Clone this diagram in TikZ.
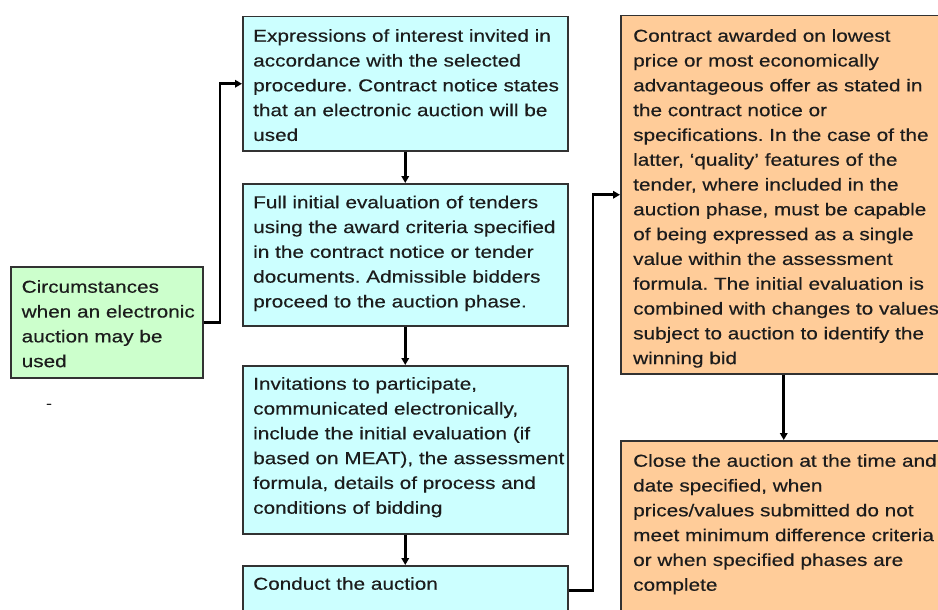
\documentclass[tikz,border=0pt]{standalone}
\usepackage{fontspec}
\setmainfont{Liberation Sans}[FakeStretch=1.2, FakeBold=0.35]
\frenchspacing
\usetikzlibrary{arrows.meta}

\definecolor{cyanfill}{RGB}{204,255,255}
\definecolor{greenfill}{RGB}{204,255,204}
\definecolor{peachfill}{RGB}{255,204,153}
\definecolor{edgegray}{RGB}{50,50,50}
\definecolor{inkgray}{RGB}{28,28,28}

\tikzset{
  panel/.style={draw=edgegray, line width=1.5pt, rectangle, inner sep=0pt,
                anchor=north west},
  bluepanel/.style={panel, fill=cyanfill, minimum width=325pt},
  greenpanel/.style={panel, fill=greenfill, minimum width=192pt},
  peachpanel/.style={panel, fill=peachfill, minimum width=326pt},
  label/.style={anchor=north west, inner sep=0pt, align=left, text=inkgray,
                font=\fontsize{17.3}{24.8}\selectfont},
  conn/.style={draw=black, line width=2.6pt},
  flow/.style={conn, -{Triangle[length=7pt,width=7.5pt]}},
}

\begin{document}
\begin{tikzpicture}[x=1pt, y=-1pt]
  \useasboundingbox (0,0) rectangle (938,610);
  \clip (0,0) rectangle (938,610);
  \fill[white] (0,0) rectangle (938,610);

  % left-hand starting box
  \node[greenpanel, minimum height=111pt] (g) at (10,266) {};
  \node[label] (gt) at (21.5,280) {Circumstances\\when an electronic\\auction may be\\used};

  % central column of procedure steps
  \node[bluepanel, minimum height=134pt] (b1) at (242,16) {};
  \node[label] (b1t) at (253,29) {Expressions of interest invited in\\accordance with the selected\\procedure. Contract notice states\\that an electronic auction will be\\used};

  \node[bluepanel, minimum height=142pt] (b2) at (242,183) {};
  \node[label] (b2t) at (253,195.5) {Full initial evaluation of tenders\\using the award criteria specified\\in the contract notice or tender\\documents. Admissible bidders\\proceed to the auction phase.};

  \node[bluepanel, minimum height=168pt] (b3) at (242,365) {};
  \node[label] (b3t) at (253,377) {Invitations to participate,\\communicated electronically,\\include the initial evaluation (if\\based on MEAT), the assessment\\formula, details of process and\\conditions of bidding};

  \node[bluepanel, minimum height=50pt] (b4) at (242,565) {};
  \node[label] (b4t) at (253,577) {Conduct the auction};

  % right-hand column
  \node[peachpanel, minimum height=358pt] (o1) at (620,15) {};
  \node[label] (o1t) at (633,29) {Contract awarded on lowest\\price or most economically\\advantageous offer as stated in\\the contract notice or\\specifications. In the case of the\\latter, ‘quality’ features of the\\tender, where included in the\\auction phase, must be capable\\of being expressed as a single\\value within the assessment\\formula. The initial evaluation is\\combined with changes to values\\subject to auction to identify the\\winning bid};

  \node[peachpanel, minimum height=200pt] (o2) at (620,440) {};
  \node[label] (o2t) at (633,454) {Close the auction at the time and\\date specified, when\\prices/values submitted do not\\meet minimum difference criteria\\or when specified phases are\\complete};

  % stray mark below the starting box
  \node[inner sep=0pt, text=inkgray, font=\fontsize{14}{14}\selectfont] (mark) at (49,406) {-};

  % routing points for the elbow connectors
  \coordinate (gx) at (220,0);
  \coordinate (cx) at (593,0);

  % connectors
  \draw[flow] (g.east) -- (g.east -| gx) -- (b1.west -| gx) -- (b1.west);
  \draw[flow] (b1.south) -- (b2.north);
  \draw[flow] (b2.south) -- (b3.north);
  \draw[flow] (b3.south) -- (b4.north);
  \draw[flow] (b4.east) -- (b4.east -| cx) -- (o1.west -| cx) -- (o1.west);
  \draw[flow] (o1.south) -- (o2.north);
\end{tikzpicture}
\end{document}
